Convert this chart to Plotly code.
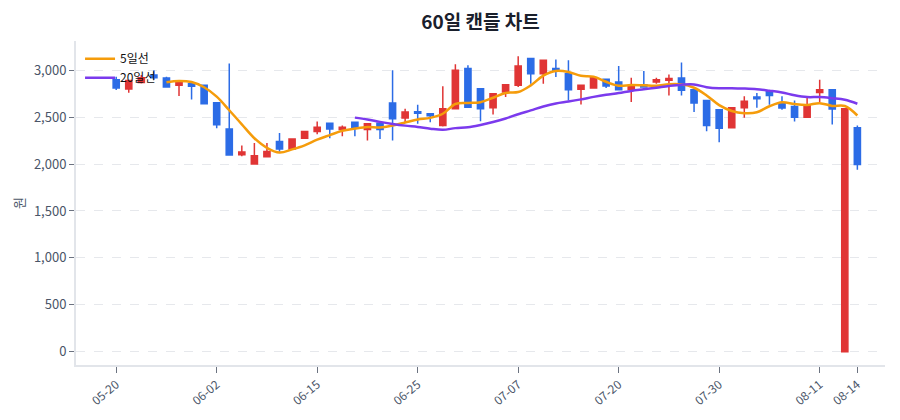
import plotly.graph_objects as go
import pandas as pd

dates = [
    "05-20", "05-21", "05-22", "05-23", "05-26", "05-27", "05-28", "05-29", "06-02", "06-03",
    "06-04", "06-05", "06-09", "06-10", "06-11", "06-12", "06-15", "06-16", "06-17", "06-18",
    "06-19", "06-22", "06-23", "06-24", "06-25", "06-26", "06-29", "06-30", "07-01", "07-02",
    "07-03", "07-06", "07-07", "07-08", "07-09", "07-10", "07-13", "07-14", "07-15", "07-16",
    "07-20", "07-21", "07-22", "07-23", "07-24", "07-27", "07-28", "07-29", "07-30", "07-31",
    "08-03", "08-04", "08-05", "08-06", "08-07", "08-10", "08-11", "08-12", "08-13", "08-14",
]

open_ = [
    2900, 2800, 2870, 2950, 2918, 2839, 2857, 2839, 2654, 2375,
    2100, 2000, 2079, 2240, 2161, 2275, 2347, 2436, 2368, 2447,
    2368, 2436, 2650, 2490, 2557, 2536, 2411, 2589, 3018, 2804,
    2600, 2768, 2839, 3125, 2964, 3018, 2964, 2797, 2811, 2904,
    2875, 2793, 2846, 2875, 2893, 2918, 2793, 2679, 2579, 2386,
    2600, 2714, 2779, 2643, 2614, 2500, 2764, 2793, 0, 2386,
]
high = [
    2930, 2900, 2950, 3000, 2930, 2885, 2875, 2845, 2654, 3071,
    2197, 2225, 2225, 2332, 2270, 2350, 2454, 2436, 2411, 2450,
    2432, 2440, 3000, 2590, 2632, 2543, 2829, 3064, 3054, 2810,
    2755, 2850, 3150, 3125, 3110, 3114, 3107, 2840, 2925, 2911,
    3046, 2921, 2993, 2921, 2954, 3082, 2795, 2680, 2580, 2605,
    2722, 2757, 2780, 2722, 2679, 2714, 2900, 2795, 2589, 2411,
]
low = [
    2790, 2760, 2860, 2900, 2820, 2725, 2689, 2640, 2382, 2097,
    2083, 1995, 2072, 2132, 2160, 2270, 2318, 2275, 2297, 2297,
    2250, 2268, 2250, 2447, 2429, 2446, 2400, 2585, 2600, 2457,
    2529, 2714, 2822, 2857, 2857, 2928, 2679, 2636, 2808, 2811,
    2786, 2661, 2822, 2857, 2732, 2732, 2554, 2350, 2232, 2382,
    2493, 2600, 2632, 2579, 2454, 2495, 2661, 2422, 0, 1939,
]
close = [
    2810, 2890, 2920, 2920, 2822, 2882, 2829, 2643, 2418, 2097,
    2130, 2090, 2133, 2161, 2268, 2347, 2393, 2375, 2393, 2382,
    2429, 2368, 2482, 2554, 2543, 2514, 2589, 3000, 2607, 2589,
    2750, 2846, 3046, 2964, 3107, 3000, 2793, 2839, 2921, 2832,
    2793, 2829, 2822, 2900, 2911, 2786, 2650, 2411, 2382, 2600,
    2671, 2696, 2732, 2597, 2500, 2625, 2793, 2586, 2589, 1996,
]

tick_labels = ["05-20", "06-02", "06-15", "06-25", "07-07", "07-20", "07-30", "08-11", "08-14"]

ma5 = pd.Series(close).rolling(5).mean()
ma20 = pd.Series(close).rolling(20).mean()

FONT = "Noto Sans CJK KR"
RED = "#e03535"
BLUE = "#2c6ce6"

fig = go.Figure()
fig.add_trace(go.Candlestick(
    x=dates, open=open_, high=high, low=low, close=close,
    increasing=dict(line=dict(color=RED, width=1.5), fillcolor=RED),
    decreasing=dict(line=dict(color=BLUE, width=1.5), fillcolor=BLUE),
    showlegend=False, name="캔들",
))
fig.add_trace(go.Scatter(
    x=dates, y=ma5, mode="lines", name="5일선",
    line=dict(color="#f59c0b", width=2.5, shape="spline"),
))
fig.add_trace(go.Scatter(
    x=dates, y=ma20, mode="lines", name="20일선",
    line=dict(color="#7b3aed", width=2.5, shape="spline"),
))

fig.update_layout(
    width=900, height=420,
    margin=dict(l=68, r=23, t=33, b=63, autoexpand=False),
    paper_bgcolor="white", plot_bgcolor="white",
    font=dict(family=FONT, size=12, color="#4a5568"),
    title=dict(text="<b>60일 캔들 차트</b>", x=0.5, xref="paper", y=0.966, yanchor="middle",
               font=dict(family=FONT, size=19, color="#1a202c")),
    legend=dict(x=0.005, y=0.99, xanchor="left", yanchor="top", bgcolor="rgba(0,0,0,0)",
                font=dict(family=FONT, size=12, color="#111111"), tracegroupgap=0,
                itemwidth=30),
    xaxis=dict(
        type="category", categoryorder="array", categoryarray=dates,
        range=[-3.2, 61.2], rangeslider=dict(visible=False), automargin=False,
        tickmode="array", tickvals=tick_labels, ticktext=tick_labels,
        tickangle=-40, ticks="outside", ticklen=6, tickcolor="#6b7280",
        showgrid=False, showline=True, linecolor="#e2e5ea", linewidth=2,
        tickfont=dict(size=12, color="#4a5568"),
    ),
    yaxis=dict(
        range=[-142, 3312], tickvals=[0, 500, 1000, 1500, 2000, 2500, 3000],
        tickformat=",", ticks="outside", ticklen=5, tickcolor="#6b7280",
        showgrid=True, gridcolor="#e6e8ec", griddash="dash", gridwidth=1,
        showline=True, linecolor="#e2e5ea", linewidth=2, zeroline=False, automargin=False,
        title=dict(text="원", font=dict(size=13, color="#4a5568"), standoff=6),
        tickfont=dict(size=13, color="#4a5568"),
    ),
)

fig.write_html("out.html")
